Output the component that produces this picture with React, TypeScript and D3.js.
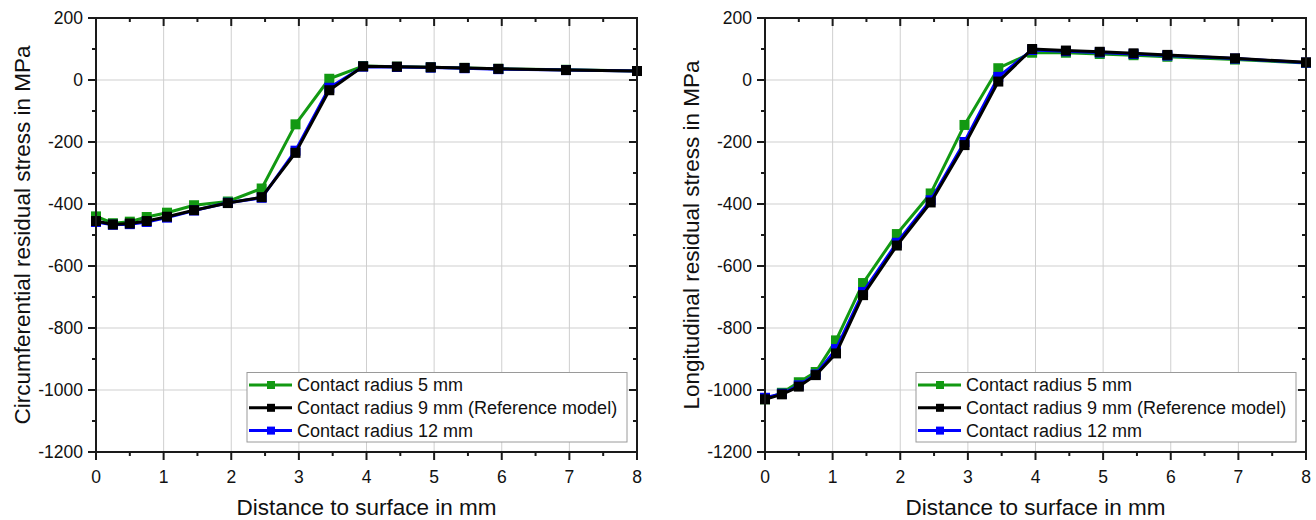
import React from "react";
import * as d3 from "d3";

const xVals = [0, 0.25, 0.5, 0.75, 1.05, 1.45, 1.95, 2.45, 2.95, 3.45, 3.95, 4.45, 4.95, 5.45, 5.95, 6.95, 8];

const circ5 = [-440, -462, -457, -442, -428, -404, -392, -350, -143, 4, 45, 43, 41, 39, 36, 33, 29];
const circ9 = [-455, -466, -463, -455, -441, -420, -397, -378, -235, -33, 44, 43, 41, 39, 36, 32, 29];
const circ12 = [-458, -467, -465, -458, -444, -421, -396, -380, -228, -25, 43, 42, 40, 38, 35, 32, 29];

const long5 = [-1030, -1009, -975, -942, -840, -655, -497, -366, -145, 38, 88, 88, 84, 80, 75, 66, 55];
const long9 = [-1030, -1014, -989, -952, -882, -694, -534, -395, -210, -5, 100, 95, 91, 86, 81, 70, 57];
const long12 = [-1025, -1012, -985, -950, -868, -684, -525, -388, -200, 10, 97, 93, 89, 84, 79, 69, 56];

const seriesNames = ["Contact radius 5 mm", "Contact radius 9 mm (Reference model)", "Contact radius 12 mm"];
const seriesColors = ["#129912", "#000000", "#0000ff"];

const xTicks = [0, 1, 2, 3, 4, 5, 6, 7, 8];
const yTicks = [200, 0, -200, -400, -600, -800, -1000, -1200];

const FONT = "'Liberation Sans', Arial, Helvetica, sans-serif";

type PanelProps = {
  left: number;
  yLabel: string;
  data: number[][];
};

function Panel({ left, yLabel, data }: PanelProps) {
  const top = 18;
  const bottom = 452;
  const width = 541;
  const right = left + width;
  const x = d3.scaleLinear().domain([0, 8]).range([left, right]);
  const y = d3.scaleLinear().domain([-1200, 200]).range([bottom, top]);
  const line = d3
    .line<number>()
    .x((_, i) => x(xVals[i]))
    .y((d) => y(d));

  const xMinor = d3.range(0, 8.01, 0.5).filter((v) => !xTicks.includes(v));
  const yMinor = d3.range(-1200, 201, 100).filter((v) => !yTicks.includes(v));

  // draw order: green, blue, black
  const order = [0, 2, 1];
  const ms = 10;

  const legX = left + 151;
  const legY = 372.5;
  const legW = 380;
  const legH = 69.5;

  return (
    <g>
      {/* grid */}
      {xTicks.slice(1, -1).map((t) => (
        <line key={"gx" + t} x1={x(t)} x2={x(t)} y1={top} y2={bottom} stroke="#cfcfcf" strokeWidth={1} />
      ))}
      {yTicks.slice(1, -1).map((t) => (
        <line key={"gy" + t} x1={left} x2={right} y1={y(t)} y2={y(t)} stroke="#cfcfcf" strokeWidth={1} />
      ))}

      {/* series */}
      {order.map((si) => (
        <g key={"s" + si}>
          <path d={line(data[si]) || ""} fill="none" stroke={seriesColors[si]} strokeWidth={3} strokeLinejoin="round" />
          {data[si].map((v, i) => (
            <rect
              key={i}
              x={x(xVals[i]) - ms / 2}
              y={y(v) - ms / 2}
              width={ms}
              height={ms}
              fill={seriesColors[si]}
            />
          ))}
        </g>
      ))}

      {/* frame */}
      <rect x={left} y={top} width={width} height={bottom - top} fill="none" stroke="#1a1a1a" strokeWidth={2} />

      {/* left ticks outward */}
      {yTicks.map((t) => (
        <line key={"ly" + t} x1={left - 8} x2={left} y1={y(t)} y2={y(t)} stroke="#1a1a1a" strokeWidth={2} />
      ))}
      {yMinor.map((t) => (
        <line key={"lym" + t} x1={left - 4} x2={left} y1={y(t)} y2={y(t)} stroke="#1a1a1a" strokeWidth={2} />
      ))}
      {/* right ticks inward */}
      {yTicks.map((t) => (
        <line key={"ry" + t} x1={right - 8} x2={right} y1={y(t)} y2={y(t)} stroke="#1a1a1a" strokeWidth={2} />
      ))}
      {yMinor.map((t) => (
        <line key={"rym" + t} x1={right - 4} x2={right} y1={y(t)} y2={y(t)} stroke="#1a1a1a" strokeWidth={2} />
      ))}
      {/* bottom ticks outward */}
      {xTicks.map((t) => (
        <line key={"bx" + t} x1={x(t)} x2={x(t)} y1={bottom} y2={bottom + 8} stroke="#1a1a1a" strokeWidth={2} />
      ))}
      {xMinor.map((t) => (
        <line key={"bxm" + t} x1={x(t)} x2={x(t)} y1={bottom} y2={bottom + 4} stroke="#1a1a1a" strokeWidth={2} />
      ))}
      {/* top ticks inward */}
      {xTicks.map((t) => (
        <line key={"tx" + t} x1={x(t)} x2={x(t)} y1={top} y2={top + 8} stroke="#1a1a1a" strokeWidth={2} />
      ))}
      {xMinor.map((t) => (
        <line key={"txm" + t} x1={x(t)} x2={x(t)} y1={top} y2={top + 4} stroke="#1a1a1a" strokeWidth={2} />
      ))}

      {/* tick labels */}
      {yTicks.map((t) => (
        <text
          key={"yl" + t}
          x={left - 13}
          y={y(t)}
          dy="0.35em"
          textAnchor="end"
          fontSize={17.5}
          fontFamily={FONT}
          fill="#111"
        >
          {t}
        </text>
      ))}
      {xTicks.map((t) => (
        <text
          key={"xl" + t}
          x={x(t)}
          y={bottom + 31}
          textAnchor="middle"
          fontSize={17.5}
          fontFamily={FONT}
          fill="#111"
        >
          {t}
        </text>
      ))}

      {/* axis labels */}
      <text
        x={(left + right) / 2}
        y={515}
        textAnchor="middle"
        fontSize={22.5}
        fontFamily={FONT}
        fill="#111"
      >
        Distance to surface in mm
      </text>
      <text
        transform={`translate(${left - 74},${(top + bottom) / 2}) rotate(-90)`}
        textAnchor="middle"
        dy="0.35em"
        fontSize={22.5}
        fontFamily={FONT}
        fill="#111"
      >
        {yLabel}
      </text>

      {/* legend */}
      <rect x={legX} y={legY} width={legW} height={legH} fill="#fff" stroke="#9a9a9a" strokeWidth={1} />
      {seriesNames.map((name, i) => {
        const cy = legY + 12.5 + i * 22.8;
        return (
          <g key={"lg" + i}>
            <line x1={legX + 2} x2={legX + 45} y1={cy} y2={cy} stroke={seriesColors[i]} strokeWidth={3} />
            <rect x={legX + 20} y={cy - 4} width={8} height={8} fill={seriesColors[i]} />
            <text x={legX + 50} y={cy} dy="0.35em" fontSize={18} fontFamily={FONT} fill="#111">
              {name}
            </text>
          </g>
        );
      })}
    </g>
  );
}

export default function App() {
  return (
    <svg
      width={1316}
      height={520}
      style={{ position: "fixed", left: 0, top: 0, background: "#fff" }}
    >
      <rect x={0} y={0} width={1316} height={520} fill="#fff" />
      <Panel left={96} yLabel="Circumferential residual stress in MPa" data={[circ5, circ9, circ12]} />
      <Panel left={765} yLabel="Longitudinal residual stress in MPa" data={[long5, long9, long12]} />
    </svg>
  );
}
